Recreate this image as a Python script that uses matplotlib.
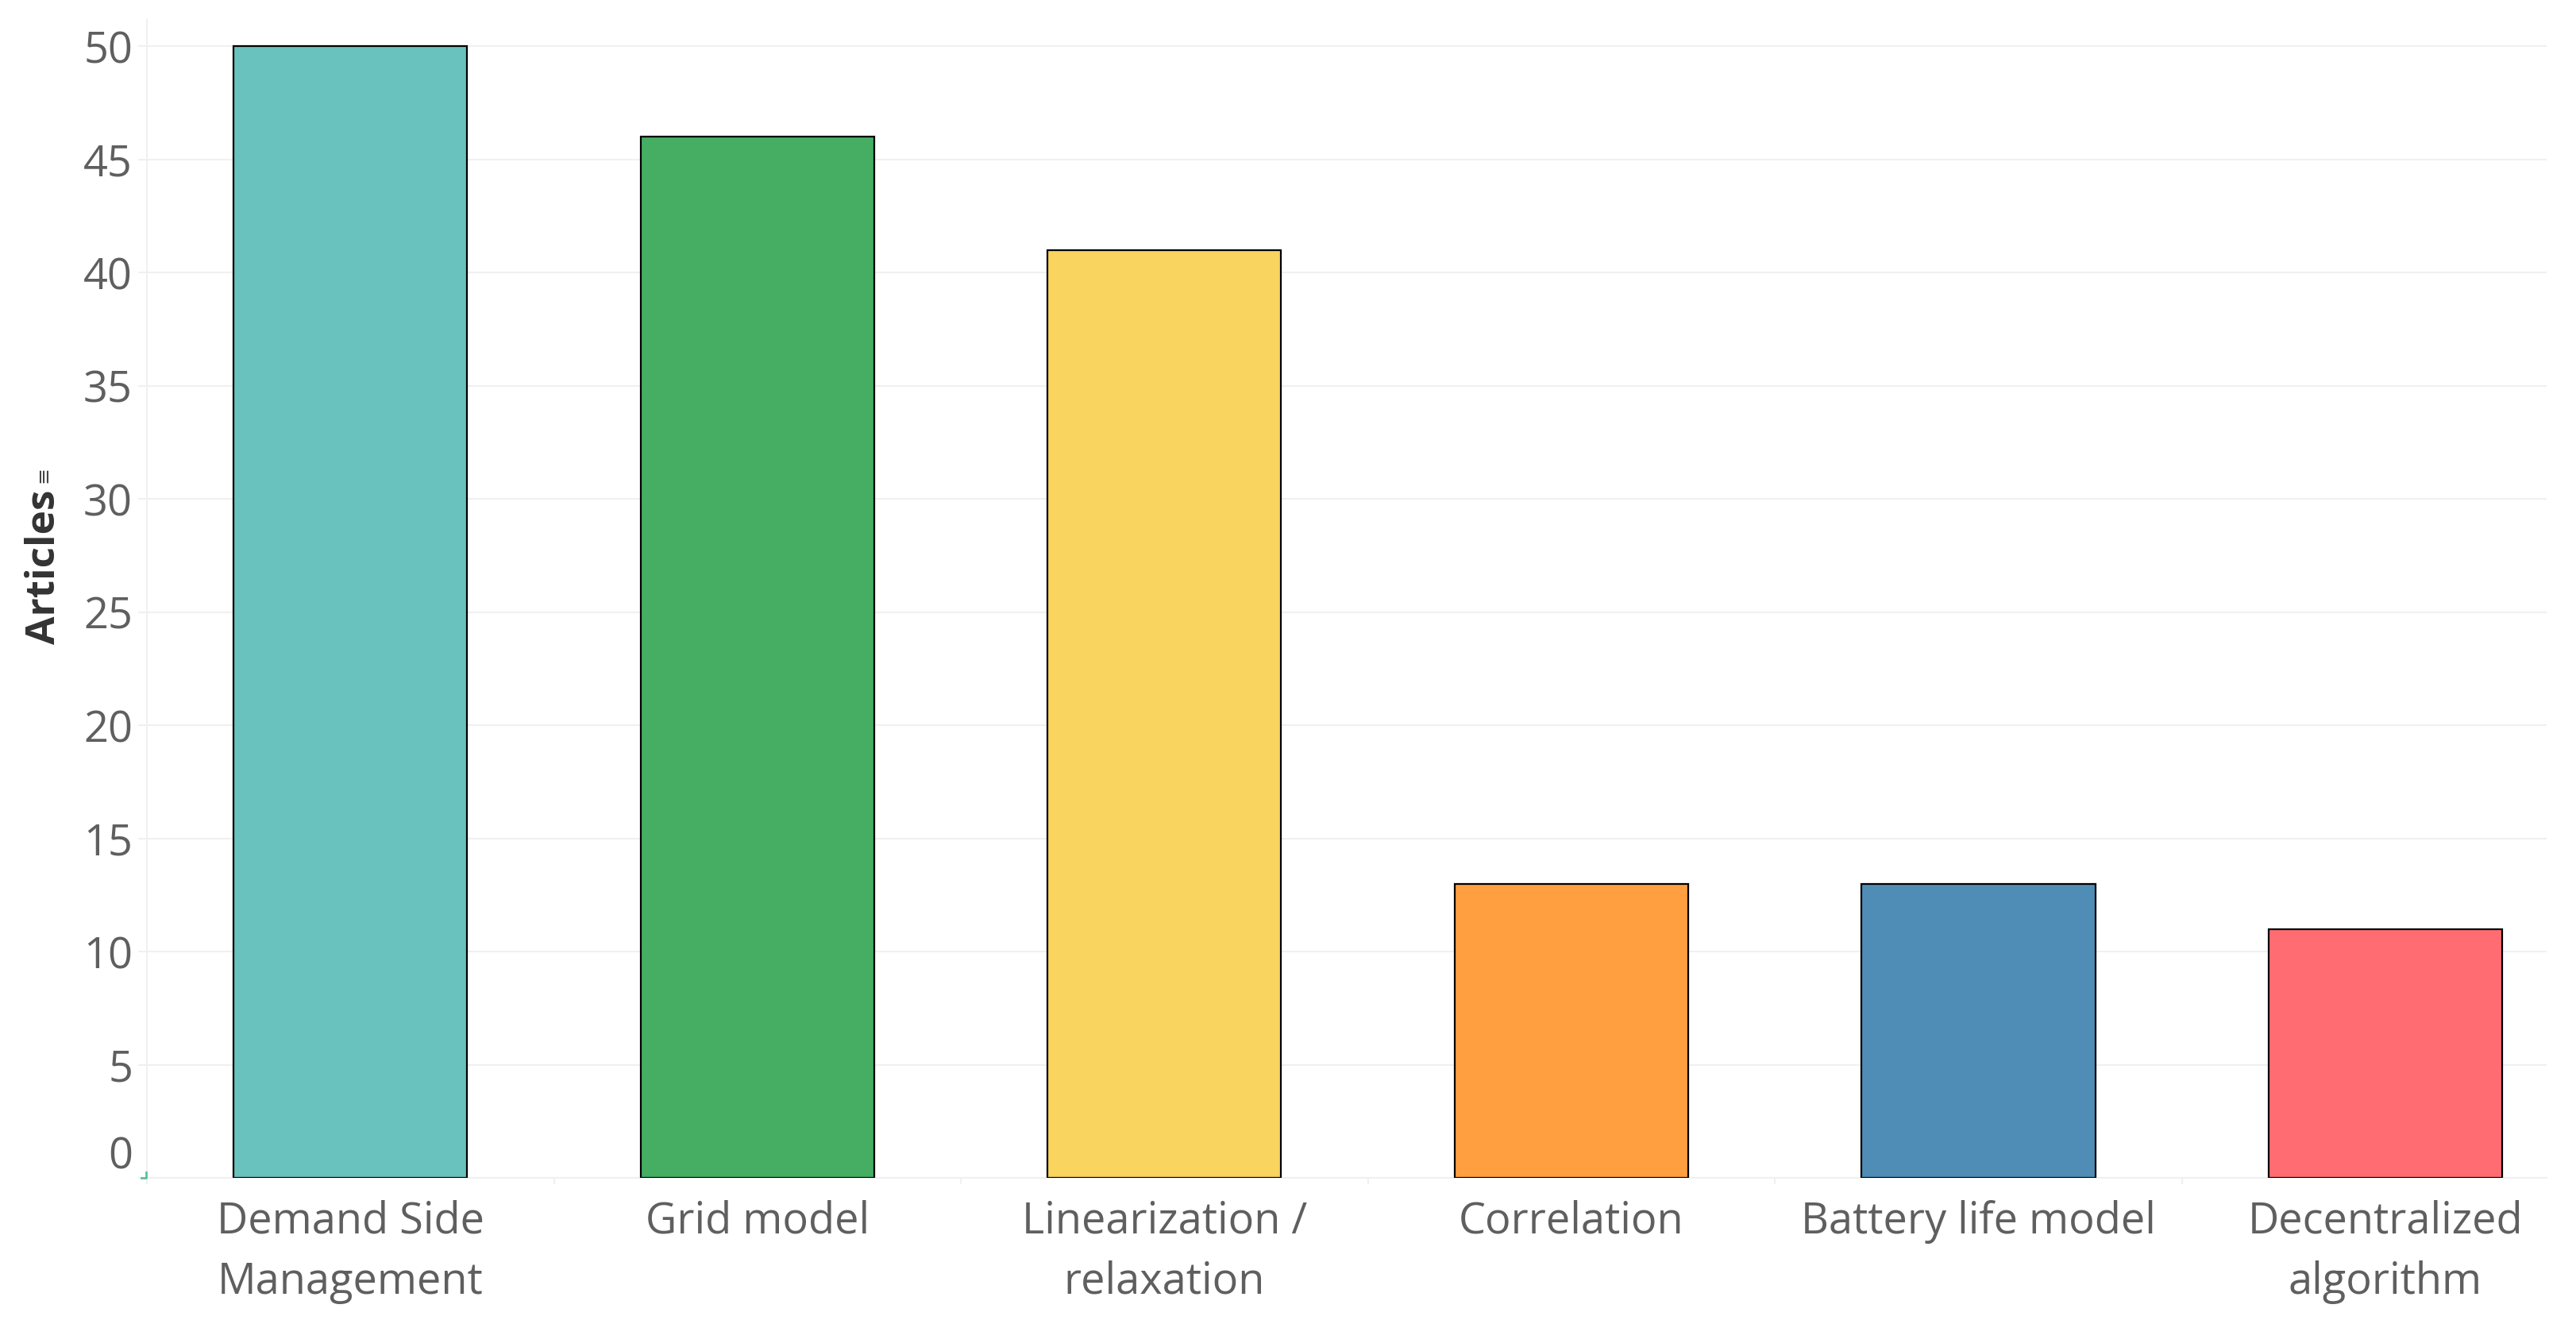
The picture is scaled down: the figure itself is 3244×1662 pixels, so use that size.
import matplotlib
matplotlib.use('Agg')
import matplotlib.pyplot as plt
import matplotlib.transforms as mtransforms
from matplotlib.lines import Line2D
import numpy as np

categories = ['Demand Side\nManagement', 'Grid model', 'Linearization /\nrelaxation',
              'Correlation', 'Battery life model', 'Decentralized\nalgorithm']
articles = [50, 46, 41, 13, 13, 11]
colors = ['#6ac2bf', '#45ae63', '#f9d45f', '#ff9f40', '#508db6', '#ff6d72']
y_ticks = [0, 5, 10, 15, 20, 25, 30, 35, 40, 45, 50]

plt.rcParams['font.family'] = ['Open Sans', 'DejaVu Sans']

fig = plt.figure(figsize=(32.44, 16.62), dpi=100)
ax = fig.add_axes([185 / 3244, 1 - 1483 / 1662, (3207 - 185) / 3244, (1483 - 25) / 1662])

x = np.arange(len(categories))
ax.bar(x, articles, width=0.574, color=colors, edgecolor='black', linewidth=1.6, zorder=3)

ax.set_xlim(-0.5, 5.396)
ax.set_ylim(0, 51.16)

ax.set_yticks(y_ticks)
ax.set_yticklabels([str(v) for v in y_ticks])
ax.set_xticks(x)
ax.set_xticklabels(categories, linespacing=1.5)
ax.set_xticks(np.arange(-0.5, 5.0, 1.0), minor=True)

ax.yaxis.grid(True, color='#f0f0f0', linewidth=1.5, zorder=0)
ax.tick_params(axis='y', length=8, width=1.5, color='#f0f0f0', pad=5,
               labelsize=39, labelcolor='#5f5f5f')
ax.tick_params(axis='x', which='major', length=0, pad=20, labelsize=39, labelcolor='#5f5f5f')
ax.tick_params(axis='x', which='minor', length=6, width=1.5, color='#f0f0f0')

for s in ['top', 'right']:
    ax.spines[s].set_visible(False)
for s in ['left', 'bottom']:
    ax.spines[s].set_color('#f0f0f0')
    ax.spines[s].set_linewidth(1.5)

# Tableau lifts the 0 label above the baseline
zero_label = ax.get_yticklabels()[0]
zero_label.set_transform(zero_label.get_transform() +
                         mtransforms.ScaledTranslation(0, 0.33, fig.dpi_scale_trans))

fig.text(56 / 3244, 1 - 714 / 1662, 'Articles', rotation=90, ha='center', va='center',
         fontsize=37, fontweight='bold', color='#333333')
# small sort icon next to the axis title
fig.text(54 / 3244, 1 - 598 / 1662, '\u2261', rotation=90, ha='center', va='center',
         fontsize=18, color='#444444', family='DejaVu Sans')

# little corner mark
fig.add_artist(Line2D([178 / 3244, 184 / 3244, 184 / 3244],
                      [1 - 1483 / 1662, 1 - 1483 / 1662, 1 - 1476 / 1662],
                      color='#5dbfa0', linewidth=2))

fig.savefig('out.png', dpi=100, facecolor='white')
